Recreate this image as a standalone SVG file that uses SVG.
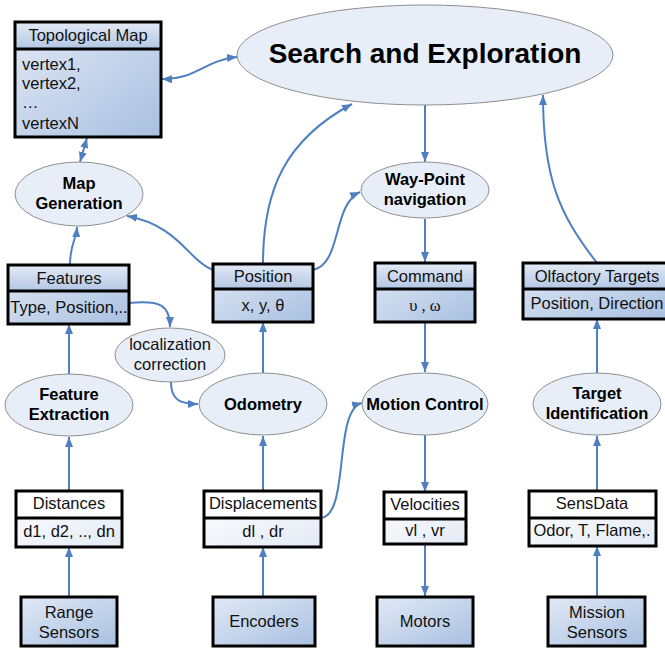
<svg xmlns="http://www.w3.org/2000/svg" width="665" height="649" viewBox="0 0 665 649">
<defs>
<linearGradient id="gBody" x1="0" y1="0" x2="1" y2="1">
<stop offset="0" stop-color="#e1e9f5"/>
<stop offset="1" stop-color="#a9c0e1"/>
</linearGradient>
<linearGradient id="gHead" x1="0" y1="0" x2="0" y2="1">
<stop offset="0" stop-color="#e3eaf5"/>
<stop offset="1" stop-color="#b3c7e4"/>
</linearGradient>
<linearGradient id="gLight" x1="0" y1="0" x2="1" y2="1">
<stop offset="0" stop-color="#ffffff"/>
<stop offset="1" stop-color="#e3eaf5"/>
</linearGradient>
<marker id="ah" viewBox="0 0 10 8" refX="10" refY="4" markerWidth="10" markerHeight="8" markerUnits="userSpaceOnUse" orient="auto-start-reverse">
<path d="M0,0 L10,4 L0,8 z" fill="#4f7fc0"/>
</marker>
<style>
.ell{fill:#e8eef8;stroke:#8f8f8f;stroke-width:1}
.box{fill:none;stroke:#000;stroke-width:3}
.sep{stroke:#000;stroke-width:3}
.t{font-family:"Liberation Sans",Arial,sans-serif;font-size:16.5px;fill:#111}
.b{font-family:"Liberation Sans",Arial,sans-serif;font-size:16.5px;font-weight:bold;fill:#000}
.s{font-family:"Liberation Serif","Times New Roman",serif;font-size:16.5px;fill:#111}
.c{fill:none;stroke:#4f7fc0;stroke-width:2}
.m{text-anchor:middle}
</style>
</defs>
<rect width="665" height="649" fill="#fff"/>

<g id="connectors">
<path class="c" d="M162,79 C195,80 205,60 237,57" marker-start="url(#ah)" marker-end="url(#ah)"/>
<path class="c" d="M87,138 L80,162" marker-start="url(#ah)" marker-end="url(#ah)"/>
<path class="c" d="M425,105 L425,162" marker-end="url(#ah)"/>
<path class="c" d="M263,264 C263,190 285,140 352,104" marker-end="url(#ah)"/>
<path class="c" d="M213,270 C190,262 178,225 127,216" marker-end="url(#ah)"/>
<path class="c" d="M313,270 C342,264 332,205 360,192" marker-end="url(#ah)"/>
<path class="c" d="M70,264 C70,245 76,240 77,227" marker-end="url(#ah)"/>
<path class="c" d="M425,219 L425,262" marker-end="url(#ah)"/>
<path class="c" d="M597,263 C560,215 543,180 543,95" marker-end="url(#ah)"/>
<path class="c" d="M129,303 C160,300 170,305 170,327" marker-end="url(#ah)"/>
<path class="c" d="M171,382 C171,400 180,404 198,404" marker-end="url(#ah)"/>
<path class="c" d="M263,373 L263,322" marker-end="url(#ah)"/>
<path class="c" d="M69,374 L69,324" marker-end="url(#ah)"/>
<path class="c" d="M425,322 L425,372" marker-end="url(#ah)"/>
<path class="c" d="M597,373 L597,319" marker-end="url(#ah)"/>
<path class="c" d="M69,491 L69,437" marker-end="url(#ah)"/>
<path class="c" d="M69,597 L69,547" marker-end="url(#ah)"/>
<path class="c" d="M263,491 L263,436" marker-end="url(#ah)"/>
<path class="c" d="M263,597 L263,547" marker-end="url(#ah)"/>
<path class="c" d="M321,518 C350,515 333,410 362,403" marker-end="url(#ah)"/>
<path class="c" d="M425,435 L425,492" marker-end="url(#ah)"/>
<path class="c" d="M425,544 L425,596" marker-end="url(#ah)"/>
<path class="c" d="M597,491 L597,436" marker-end="url(#ah)"/>
<path class="c" d="M597,597 L597,546" marker-end="url(#ah)"/>
</g>

<g id="search">
<ellipse class="ell" cx="425" cy="55" rx="188" ry="50"/>
<text class="b m" x="425" y="63" style="font-size:28px">Search and Exploration</text>
</g>

<g id="topomap">
<rect x="15" y="22" width="146" height="115" fill="url(#gBody)"/>
<rect x="15" y="22" width="146" height="27" fill="url(#gHead)"/>
<rect class="box" x="15" y="22" width="146" height="115"/>
<line class="sep" x1="15" y1="49" x2="161" y2="49"/>
<text class="t m" x="88" y="41">Topological Map</text>
<text class="t" x="22" y="70">vertex1,</text>
<text class="t" x="22" y="89">vertex2,</text>
<text class="t" x="22" y="108">…</text>
<text class="t" x="22" y="129">vertexN</text>
</g>

<g id="mapgen">
<ellipse class="ell" cx="79" cy="194" rx="64" ry="32"/>
<text class="b m" x="79" y="189">Map</text>
<text class="b m" x="79" y="209">Generation</text>
</g>

<g id="waypoint">
<ellipse class="ell" cx="425" cy="190" rx="64" ry="28"/>
<text class="b m" x="425" y="185">Way-Point</text>
<text class="b m" x="425" y="205">navigation</text>
</g>

<g id="features">
<rect x="8" y="265" width="121" height="59" fill="url(#gBody)"/>
<rect x="8" y="265" width="121" height="26" fill="url(#gHead)"/>
<rect class="box" x="8" y="265" width="121" height="59"/>
<line class="sep" x1="8" y1="291" x2="129" y2="291"/>
<text class="t m" x="69" y="284">Features</text>
<text class="t m" x="69" y="313">Type, Position,..</text>
</g>

<g id="position">
<rect x="213" y="264" width="100" height="58" fill="url(#gBody)"/>
<rect x="213" y="264" width="100" height="25" fill="url(#gHead)"/>
<rect class="box" x="213" y="264" width="100" height="58"/>
<line class="sep" x1="213" y1="289" x2="313" y2="289"/>
<text class="t m" x="263" y="282">Position</text>
<text class="t m" x="263" y="311">x, y, θ</text>
</g>

<g id="command">
<rect x="375" y="263" width="100" height="59" fill="url(#gBody)"/>
<rect x="375" y="263" width="100" height="26" fill="url(#gHead)"/>
<rect class="box" x="375" y="263" width="100" height="59"/>
<line class="sep" x1="375" y1="289" x2="475" y2="289"/>
<text class="t m" x="425" y="282">Command</text>
<text class="s m" x="425" y="311">υ , ω</text>
</g>

<g id="olfactory">
<rect x="523" y="263" width="148" height="56" fill="url(#gBody)"/>
<rect x="523" y="263" width="148" height="26" fill="url(#gHead)"/>
<rect class="box" x="523" y="263" width="148" height="56"/>
<line class="sep" x1="523" y1="289" x2="671" y2="289"/>
<text class="t m" x="597" y="282">Olfactory Targets</text>
<text class="t m" x="597" y="309">Position, Direction</text>
</g>

<g id="localization">
<ellipse class="ell" cx="170" cy="355" rx="55" ry="27"/>
<text class="t m" x="170" y="350">localization</text>
<text class="t m" x="170" y="370">correction</text>
</g>

<g id="featext">
<ellipse class="ell" cx="69" cy="405" rx="64" ry="31"/>
<text class="b m" x="69" y="400">Feature</text>
<text class="b m" x="69" y="420">Extraction</text>
</g>

<g id="odometry">
<ellipse class="ell" cx="263" cy="404" rx="64" ry="31"/>
<text class="b m" x="263" y="410">Odometry</text>
</g>

<g id="motion">
<ellipse class="ell" cx="425" cy="404" rx="63" ry="31"/>
<text class="b m" x="425" y="410">Motion Control</text>
</g>

<g id="targetid">
<ellipse class="ell" cx="597" cy="404" rx="64" ry="31"/>
<text class="b m" x="597" y="399">Target</text>
<text class="b m" x="597" y="419">Identification</text>
</g>

<g id="distances">
<rect x="16" y="491" width="106" height="56" fill="url(#gLight)"/>
<rect x="16" y="491" width="106" height="27" fill="#fff"/>
<rect class="box" x="16" y="491" width="106" height="56"/>
<line class="sep" x1="16" y1="518" x2="122" y2="518"/>
<text class="t m" x="69" y="509">Distances</text>
<text class="t m" x="69" y="537">d1, d2, .., dn</text>
</g>

<g id="displacements">
<rect x="204" y="491" width="117" height="56" fill="url(#gLight)"/>
<rect x="204" y="491" width="117" height="27" fill="#fff"/>
<rect class="box" x="204" y="491" width="117" height="56"/>
<line class="sep" x1="204" y1="518" x2="321" y2="518"/>
<text class="t m" x="263" y="509">Displacements</text>
<text class="t m" x="263" y="537">dl , dr</text>
</g>

<g id="velocities">
<rect x="384" y="492" width="82" height="52" fill="url(#gLight)"/>
<rect x="384" y="492" width="82" height="27" fill="#fff"/>
<rect class="box" x="384" y="492" width="82" height="52"/>
<line class="sep" x1="384" y1="519" x2="466" y2="519"/>
<text class="t m" x="425" y="510">Velocities</text>
<text class="t m" x="425" y="536">vl , vr</text>
</g>

<g id="sensdata">
<rect x="529" y="491" width="127" height="55" fill="url(#gLight)"/>
<rect x="529" y="491" width="127" height="27" fill="#fff"/>
<rect class="box" x="529" y="491" width="127" height="55"/>
<line class="sep" x1="529" y1="518" x2="656" y2="518"/>
<text class="t m" x="592" y="509">SensData</text>
<text class="t m" x="592" y="536">Odor, T, Flame,.</text>
</g>

<g id="range">
<rect x="21" y="597" width="96" height="49" fill="url(#gBody)"/>
<rect class="box" x="21" y="597" width="96" height="49"/>
<text class="t m" x="69" y="618">Range</text>
<text class="t m" x="69" y="638">Sensors</text>
</g>

<g id="encoders">
<rect x="213" y="597" width="102" height="49" fill="url(#gBody)"/>
<rect class="box" x="213" y="597" width="102" height="49"/>
<text class="t m" x="264" y="627">Encoders</text>
</g>

<g id="motors">
<rect x="377" y="597" width="96" height="49" fill="url(#gBody)"/>
<rect class="box" x="377" y="597" width="96" height="49"/>
<text class="t m" x="425" y="627">Motors</text>
</g>

<g id="mission">
<rect x="548" y="597" width="97" height="49" fill="url(#gBody)"/>
<rect class="box" x="548" y="597" width="97" height="49"/>
<text class="t m" x="597" y="618">Mission</text>
<text class="t m" x="597" y="638">Sensors</text>
</g>
</svg>
